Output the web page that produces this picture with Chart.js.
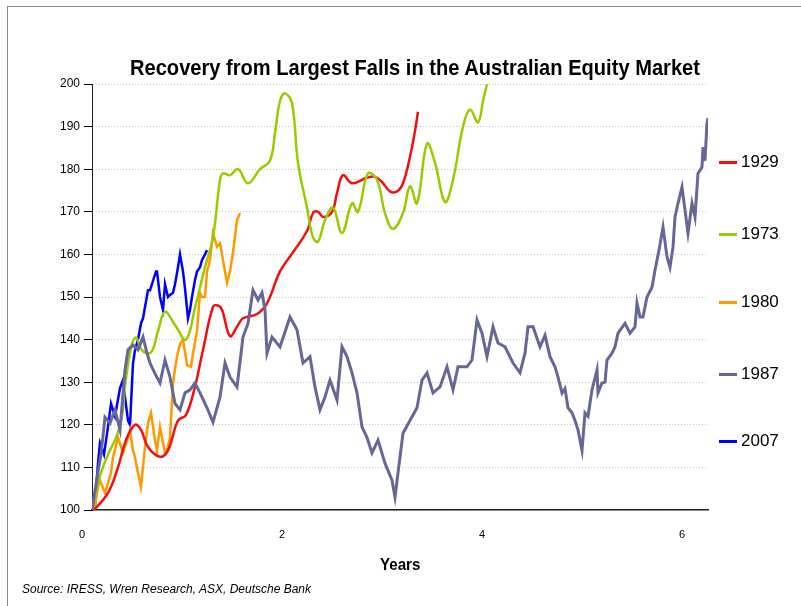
<!DOCTYPE html>
<html>
<head>
<meta charset="utf-8">
<title>Recovery from Largest Falls in the Australian Equity Market</title>
<script src="https://cdn.jsdelivr.net/npm/chart.js@4/dist/chart.umd.min.js"></script>
<style>
  html, body { margin: 0; padding: 0; background: #fff; }
  #wrap { position: relative; width: 801px; height: 606px; overflow: hidden; }
  #frame { position: absolute; left: 7px; top: 6px; width: 820px; height: 640px;
           border-left: 1px solid #888; border-top: 1px solid #888; }
  #chart { position: absolute; left: 0; top: 0; }
  .txt { position: absolute; white-space: nowrap; color: #000; font-family: "Liberation Sans", Arial, sans-serif; }
  .narrow { font-weight: bold; transform-origin: 0 0; }
  #title { top: 55px; font-size: 22px; }
  #xtitle { top: 555px; font-size: 17px; }
  #source { left: 22px; top: 582px; font-size: 12px; font-style: italic; }
  .leg { position: absolute; left: 719px; height: 20px; }
  .leg span.ln { position: absolute; left: 0; top: 9px; width: 18px; height: 3px; }
  .leg span.lb { position: absolute; left: 22px; top: 0; font-size: 17px; line-height: 20px;
                 font-family: "Liberation Sans", Arial, sans-serif; }
</style>
</head>
<body>
<div id="wrap">
  <div id="frame"></div>
  <canvas id="chart" width="801" height="606"></canvas>
  <div class="txt narrow" id="title">Recovery from Largest Falls in the Australian Equity Market</div>
  <div class="txt narrow" id="xtitle">Years</div>
  <div class="txt" id="source">Source: IRESS, Wren Research, ASX, Deutsche Bank</div>
  <div id="legend"></div>
</div>
<script>
// Series labels and colours
const seriesNames = ['1929', '1973', '1980', '1987', '2007'];
const seriesColors = ['#f01010', '#99cc00', '#ff9900', '#666699', '#0000ff'];
const legendTops = [152, 224, 292, 364, 431];

// Axis ticks
const yTicks = [100, 110, 120, 130, 140, 150, 160, 170, 180, 190, 200];
const xTicks = [0, 2, 4, 6];

// 1929 (years since fall, index)
const years1929 = [0, 0.03, 0.16, 0.26, 0.34, 0.43, 0.49, 0.56, 0.68, 0.76, 0.86, 0.94, 1.03, 1.11, 1.21, 1.26,
  1.30, 1.38, 1.45, 1.51, 1.65, 1.75, 1.88, 2.01, 2.15, 2.21, 2.26, 2.31, 2.40, 2.45, 2.51, 2.60, 2.75, 2.83,
  2.90, 2.98, 3.05, 3.11, 3.18, 3.23, 3.26];
const values1929 = [100, 100.3, 104, 110, 116.4, 120, 118.8, 114.8, 112.5, 114, 121, 122.3, 129, 137.6, 147.7, 148,
  147, 140.8, 143, 145, 146, 148.5, 156, 160.5, 165.5, 169.7, 170, 168.8, 170, 174.4, 178.6, 176.7, 178, 178.2,
  177, 174.8, 174.8, 176.7, 182.9, 189, 193.5];

// 1973
const years1973 = [0, 0.08, 0.16, 0.24, 0.30, 0.33, 0.39, 0.44, 0.50, 0.59, 0.66, 0.73, 0.83, 0.94, 1.03, 1.13,
  1.21, 1.28, 1.31, 1.38, 1.46, 1.56, 1.68, 1.78, 1.83, 1.88, 1.93, 2.00, 2.06, 2.15, 2.21, 2.26, 2.33, 2.41,
  2.50, 2.60, 2.66, 2.76, 2.85, 2.93, 3.01, 3.11, 3.18, 3.25, 3.35, 3.43, 3.53, 3.61, 3.71, 3.78, 3.86, 3.91, 3.95];
const values1973 = [100, 108, 113, 117, 122, 129, 138, 140.5, 137.5, 137, 142, 146.5, 143.4, 140, 147.5, 157,
  164, 177.5, 179, 178.6, 180, 176.7, 180, 182, 188.5, 196, 197.8, 195.5, 181.5, 171, 164, 163, 168, 171,
  165, 172, 170, 179, 177.5, 169.7, 166, 169.7, 176, 172, 186, 181.5, 172.3, 177.5, 190, 194, 191, 196, 200];

// 1980
const years1980 = [0, 0.03, 0.06, 0.08, 0.13, 0.19, 0.21, 0.26, 0.31, 0.36, 0.38, 0.41, 0.43, 0.46, 0.49, 0.53,
  0.56, 0.59, 0.63, 0.65, 0.68, 0.70, 0.73, 0.75, 0.78, 0.81, 0.85, 0.88, 0.91, 0.95, 0.99, 1.01, 1.05, 1.08,
  1.10, 1.13, 1.15, 1.18, 1.21, 1.25, 1.28, 1.31, 1.35, 1.38, 1.41, 1.45, 1.48];
const values1980 = [100, 101, 105.4, 107, 104, 108.7, 112.4, 117, 113.4, 117, 118.8, 114, 112.4, 108.7, 105.4, 114.8,
  120.4, 122.8, 116.4, 114, 119.5, 117, 113.4, 114, 117, 130, 136, 139, 140, 134, 133.6, 136.8, 142, 151,
  150, 150, 156, 158.7, 165, 161.8, 162.6, 158.7, 153.3, 156, 160.5, 168, 169.7];

// 1987
const years1987 = [0, 0.06, 0.09, 0.13, 0.18, 0.23, 0.28, 0.33, 0.36, 0.41, 0.46, 0.51, 0.55, 0.58, 0.63, 0.68,
  0.73, 0.78, 0.83, 0.88, 0.93, 0.98, 1.03, 1.08, 1.15, 1.21, 1.28, 1.33, 1.38, 1.45, 1.51, 1.56, 1.61, 1.66,
  1.70, 1.73, 1.75, 1.80, 1.88, 1.98, 2.05, 2.11, 2.18, 2.23, 2.28, 2.33, 2.38, 2.45, 2.50, 2.55, 2.60, 2.65,
  2.70, 2.75, 2.80, 2.86, 2.93, 3.00, 3.03, 3.06, 3.11, 3.18, 3.25, 3.30, 3.35, 3.41, 3.48, 3.55, 3.61, 3.66,
  3.75, 3.80, 3.85, 3.90, 3.95, 4.01, 4.06, 4.13, 4.21, 4.28, 4.33, 4.36, 4.41, 4.48, 4.53, 4.58, 4.63, 4.66,
  4.70, 4.73, 4.76, 4.80, 4.83, 4.86, 4.90, 4.93, 4.96, 5.00, 5.05, 5.06, 5.10, 5.13, 5.15, 5.20, 5.23, 5.26,
  5.33, 5.38, 5.43, 5.45, 5.48, 5.51, 5.55, 5.60, 5.63, 5.67, 5.71, 5.75, 5.78, 5.81, 5.83, 5.86, 5.90, 5.93,
  5.96, 6.00, 6.03, 6.06, 6.10, 6.11, 6.13, 6.15, 6.16];
const values1987 = [100, 109, 113, 121.8, 120.4, 123.5, 118.8, 132.9, 137.6, 138.7, 137.6, 140.6, 136.8, 134.5, 132, 129.8,
  135.2, 131.2, 125, 123.5, 127.5, 128.2, 129.8, 127.5, 124, 120.6, 126.5, 134.5, 131.2, 128.9, 140.6, 143.8, 151.6, 149.3,
  151, 147, 136.8, 140.6, 138.3, 145.3, 142.3, 134.5, 136, 128.9, 123.5, 126.5, 130.5, 125.8, 138.3, 136, 132.2, 127.5,
  119.5, 117, 113.4, 116.4, 111, 107, 103, 108.7, 118, 121, 124, 130.5, 132.2, 127.5, 128.9, 133.6, 128.2, 133.6,
  133.6, 135.2, 144.6, 141.5, 136, 143, 139.2, 138.3, 134.5, 132.2, 136.8, 143, 143, 138.3, 141, 136, 133.6, 131.2,
  127.5, 128.5, 124, 122.8, 121, 118.8, 114, 122.8, 122, 128.2, 132.9, 127.5, 129.8, 130, 135.2, 136.8, 138.3, 141.5,
  143.8, 141.5, 143, 148.6, 145.3, 145.3, 150, 152.3, 156.3, 161, 166.4, 159.4, 157, 161.7, 168.8, 172, 175.8, 170.4,
  165, 172, 168.8, 179, 180.5, 185.2, 182, 190.8, 192];

// 2007
const years2007 = [0, 0.03, 0.06, 0.08, 0.12, 0.16, 0.19, 0.23, 0.28, 0.31, 0.33, 0.36, 0.38, 0.41, 0.43, 0.46,
  0.49, 0.51, 0.56, 0.58, 0.60, 0.64, 0.65, 0.68, 0.71, 0.73, 0.76, 0.78, 0.81, 0.83, 0.86, 0.88, 0.91, 0.93,
  0.96, 0.98, 1.00, 1.03, 1.05, 1.08, 1.10, 1.13, 1.15];
const values2007 = [100, 101, 111, 115.7, 113, 119.5, 125, 122, 128.6, 130.5, 126.5, 121, 120, 134.5, 137.5, 140,
  143.8, 145, 151.6, 151.6, 153, 156, 156, 150, 147, 153, 150, 150.5, 151, 153, 157, 160, 156, 152,
  145, 147, 150, 154, 156, 157, 158.7, 160, 161];

const seriesYears = [years1929, years1973, years1980, years1987, years2007];
const seriesValues = [values1929, values1973, values1980, values1987, values2007];
const seriesTension = [0.4, 0.4, 0, 0, 0];
const seriesWidth = [2.5, 2.5, 2.5, 3, 2.5];

// Build datasets (draw 1987 first so the others sit on top of it)
const drawOrder = [3, 1, 0, 2, 4];
const datasets = drawOrder.map(i => ({
    label: seriesNames[i],
    data: seriesYears[i].map((x, k) => ({ x: x, y: seriesValues[i][k] })),
    borderColor: seriesColors[i],
    backgroundColor: seriesColors[i],
    borderWidth: seriesWidth[i],
    pointRadius: 0,
    tension: seriesTension[i],
    fill: false
}));

// Legend on the right
const legend = document.getElementById('legend');
seriesNames.forEach((name, i) => {
    const item = document.createElement('div');
    item.className = 'leg';
    item.style.top = legendTops[i] + 'px';
    item.innerHTML = '<span class="ln" style="background:' + seriesColors[i] + '"></span><span class="lb">' + name + '</span>';
    legend.appendChild(item);
});

// Squeeze bold text to a narrow look, centred on a given x
function narrowText(id, centerX, targetWidth) {
    const el = document.getElementById(id);
    const w = el.offsetWidth;
    const s = targetWidth / w;
    el.style.left = (centerX - targetWidth / 2) + 'px';
    el.style.transform = 'scaleX(' + s + ')';
}
narrowText('title', 415, 570);
narrowText('xtitle', 400, 40);

new Chart(document.getElementById('chart'), {
    type: 'line',
    data: { datasets: datasets },
    options: {
        responsive: false,
        animation: false,
        layout: { padding: { top: 84, right: 93, left: 0, bottom: 0 } },
        plugins: {
            legend: { display: false },
            title: { display: false },
            tooltip: { enabled: false }
        },
        scales: {
            x: {
                type: 'linear',
                min: 0,
                max: 6.16,
                afterFit: (scale) => { scale.height = 96; },
                grid: { display: false, drawTicks: false },
                border: { display: true, color: '#222', width: 1.5 },
                afterBuildTicks: (scale) => { scale.ticks = xTicks.map(v => ({ value: v })); },
                ticks: {
                    padding: 18,
                    labelOffset: -10,
                    color: '#000',
                    font: { family: 'Liberation Sans, Arial, sans-serif', size: 11 },
                    callback: (v) => String(v)
                }
            },
            y: {
                min: 100,
                max: 200,
                afterFit: (scale) => { scale.width = 92; },
                afterBuildTicks: (scale) => { scale.ticks = yTicks.map(v => ({ value: v })); },
                grid: {
                    color: '#c4c4c4',
                    lineWidth: 1,
                    tickColor: '#000',
                    tickLength: 8
                },
                border: { display: true, color: '#222', width: 1, dash: [1, 2] },
                ticks: {
                    padding: 4,
                    color: '#000',
                    font: { family: 'Liberation Sans, Arial, sans-serif', size: 12 }
                }
            }
        }
    }
});
</script>
</body>
</html>
